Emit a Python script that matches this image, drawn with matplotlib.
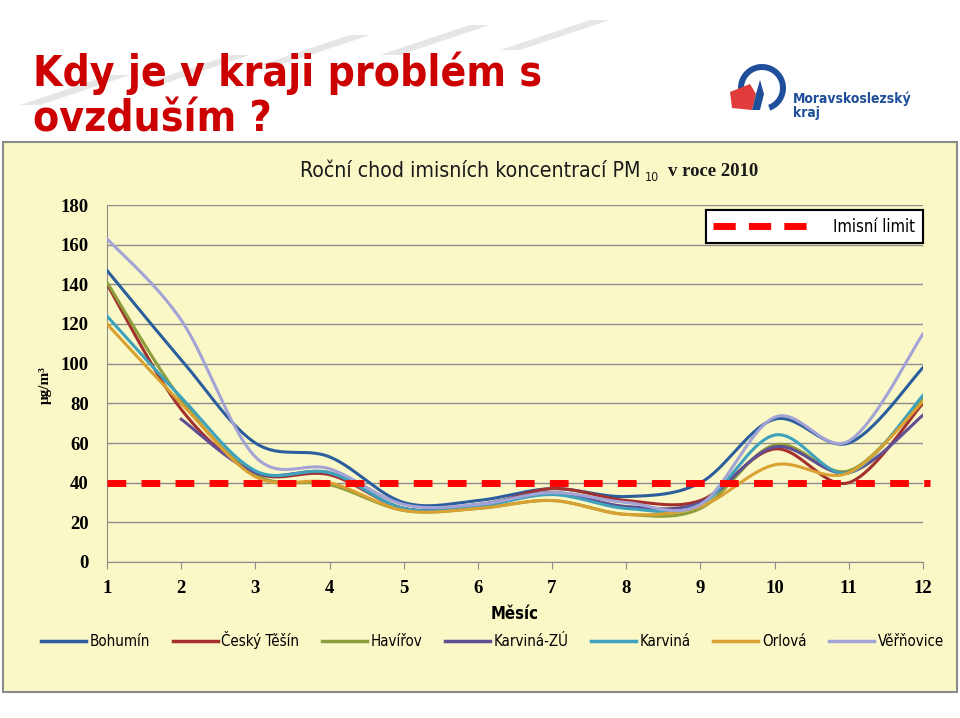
import numpy as np
import matplotlib
matplotlib.use("Agg")
import matplotlib.pyplot as plt
from matplotlib.patches import Rectangle, Polygon, Wedge
from matplotlib.lines import Line2D

months = list(range(1, 13))

bohumin = [147, 102, 60, 53, 30, 31, 37, 33, 40, 72, 60, 98]
cesky_tesin = [140, 77, 45, 44, 27, 28, 37, 31, 31, 57, 40, 80]
havirov = [141, 82, 44, 39, 26, 27, 31, 24, 27, 59, 46, 82]
karvina_zu = [np.nan, 72, 45, 45, 27, 29, 35, 28, 30, 58, 45, 74]
karvina = [124, 83, 46, 45, 27, 28, 34, 27, 29, 64, 45, 84]
orlova = [120, 80, 43, 40, 26, 27, 31, 24, 28, 49, 45, 81]
verrnovice = [163, 122, 53, 47, 29, 29, 35, 30, 29, 73, 61, 115]

series_names = ["Bohumín", "Český Těšín", "Havířov", "Karviná-ZÚ",
                "Karviná", "Orlová", "Věřňovice"]
series_values = [bohumin, cesky_tesin, havirov, karvina_zu,
                 karvina, orlova, verrnovice]
series_colors = ["#2B5E9C", "#A3302D", "#8E9E3C", "#5F4F94",
                 "#3FA2BC", "#D9A032", "#A3A3D6"]

limit_value = 40
y_ticks = list(range(0, 181, 20))

W, H = 960, 718
NARROW = dict(family="DejaVu Sans", stretch="condensed")


def px(x, y):
    return x / W, 1 - y / H


def smooth(xs, ys, n=30):
    # Catmull-Rom curve through the monthly points (like Excel smoothed lines)
    xs = np.asarray(xs, float)
    ys = np.asarray(ys, float)
    ok = ~np.isnan(ys)
    xs, ys = xs[ok], ys[ok]
    pts = np.column_stack([xs, ys])
    p = np.vstack([pts[0], pts, pts[-1]])
    out = []
    for i in range(1, len(p) - 2):
        p0, p1, p2, p3 = p[i - 1], p[i], p[i + 1], p[i + 2]
        t = np.linspace(0, 1, n, endpoint=False)[:, None]
        seg = 0.5 * ((2 * p1) + (-p0 + p2) * t
                     + (2 * p0 - 5 * p1 + 4 * p2 - p3) * t ** 2
                     + (-p0 + 3 * p1 - 3 * p2 + p3) * t ** 3)
        out.append(seg)
    out.append(pts[-1:])
    out = np.vstack(out)
    return out[:, 0], out[:, 1]


fig = plt.figure(figsize=(9.6, 7.18), dpi=100)
fig.patch.set_facecolor("white")

# chart panel background
x0, y0 = px(3, 692)
x1, y1 = px(957, 142)
fig.patches.append(Rectangle((x0, y0), x1 - x0, y1 - y0,
                             transform=fig.transFigure,
                             facecolor="#FBF8C8", edgecolor="#8A8A8A",
                             linewidth=1.5, zorder=-2))

# faint grey swooshes behind the slide title
for sx, sy in [(20, 95), (140, 75), (260, 55), (380, 45), (500, 40)]:
    poly = [px(sx, sy + 10), px(sx + 90, sy - 20), px(sx + 110, sy - 20), px(sx + 20, sy + 10)]
    fig.patches.append(Polygon(poly, closed=True, transform=fig.transFigure,
                               facecolor="#E6E6E6", edgecolor="none", zorder=-2))

# slide title
fig.text(*px(33, 86), "Kdy je v kraji problém s", color="#CC0000",
         fontsize=30.5, fontweight="bold", va="baseline", **NARROW)
fig.text(*px(33, 131), "ovzduším ?", color="#CC0000",
         fontsize=30.5, fontweight="bold", va="baseline", **NARROW)

# logo (simple approximation in its own small axes)
lx0, ly0 = px(722, 124)
lx1, ly1 = px(792, 54)
logo = fig.add_axes([lx0, ly0, lx1 - lx0, ly1 - ly0])
logo.set_xlim(0, 70)
logo.set_ylim(0, 70)
logo.set_aspect("equal")
logo.axis("off")
logo.add_patch(Wedge((40, 36), 24, -70, 200, width=6, facecolor="#1F4E9A", edgecolor="none"))
logo.add_patch(Polygon([(8, 32), (28, 40), (34, 30), (30, 14), (10, 16)],
                       closed=True, facecolor="#E03C3C", edgecolor="none"))
logo.add_patch(Polygon([(30, 14), (34, 30), (38, 44), (42, 30), (38, 14)],
                       closed=True, facecolor="#1F4E9A", edgecolor="none"))
fig.text(*px(793, 103), "Moravskoslezský", color="#1F4E9A", fontsize=10,
         fontweight="bold", va="baseline", **NARROW)
fig.text(*px(793, 117), "kraj", color="#1F4E9A", fontsize=10,
         fontweight="bold", va="baseline", **NARROW)

# chart title
fig.text(*px(300, 177), "Roční chod imisních koncentrací PM", fontsize=15.3,
         va="baseline", color="#1A1A1A", **NARROW)
fig.text(*px(645, 181), "10", fontsize=9,
         va="baseline", color="#1A1A1A", **NARROW)
fig.text(*px(668, 176), "v roce 2010", fontsize=13.5, fontweight="bold",
         family=["Liberation Serif", "DejaVu Serif"], va="baseline", color="#1A1A1A")

ax_l, ax_b = px(107, 562)
ax_r, ax_t = px(923, 205)
ax = fig.add_axes([ax_l, ax_b, ax_r - ax_l, ax_t - ax_b])
ax.set_facecolor("none")

for name, vals, col in zip(series_names, series_values, series_colors):
    sx, sy = smooth(months, vals)
    ax.plot(sx, sy, color=col, linewidth=2.2, label=name, zorder=3)

ax.plot([1, 12.1], [limit_value, limit_value], color="#FF0000", linewidth=5,
        dashes=(2.7, 2.2), zorder=4, clip_on=False, solid_capstyle="butt")

ax.set_xlim(1, 12)
ax.set_ylim(0, 180)
ax.set_xticks(months)
ax.set_yticks(y_ticks)
ax.grid(axis="y", color="#8C8C8C", linewidth=1)
ax.set_axisbelow(True)
for s in ["top", "right"]:
    ax.spines[s].set_visible(False)
ax.spines["left"].set_color("#8C8C8C")
ax.spines["bottom"].set_color("#8C8C8C")
ax.tick_params(axis="y", length=0, pad=13)
ax.tick_params(axis="x", length=5, color="#8C8C8C", pad=8, direction="out")
for lab in ax.get_xticklabels() + ax.get_yticklabels():
    lab.set_fontfamily(["Liberation Serif", "DejaVu Serif"])
    lab.set_fontsize(13.5)
    lab.set_fontweight("bold")

ax.set_xlabel("Měsíc", fontsize=12, fontweight="bold", labelpad=6, **NARROW)
fig.text(*px(45, 385), "μg/m³", rotation=90, fontsize=11, fontweight="bold",
         family=["Liberation Serif", "DejaVu Serif"], ha="center", va="center")

# limit legend box
lb = ax.legend([Line2D([0], [0], color="#FF0000", linewidth=5, dashes=(3.2, 1.9))],
               ["Imisní limit"], loc="upper right", bbox_to_anchor=(1.006, 1.0),
               frameon=True, fancybox=False, edgecolor="black", handlelength=6.3,
               prop=dict(size=12, **NARROW),
               borderpad=0.45, handletextpad=0.9, borderaxespad=0.3)
lb.get_frame().set_linewidth(1.5)
lb.get_frame().set_facecolor("white")
lb.get_frame().set_alpha(1)
ax.add_artist(lb)

handles = [Line2D([0], [0], color=c, linewidth=2.5) for c in series_colors]
fig.legend(handles, series_names, loc="center", bbox_to_anchor=(0.513, 1 - 640 / H),
           ncol=7, frameon=False, handlelength=3.0, handletextpad=0.25,
           columnspacing=1.5, prop=dict(size=10.8, **NARROW))

fig.savefig("out.png", dpi=100)
